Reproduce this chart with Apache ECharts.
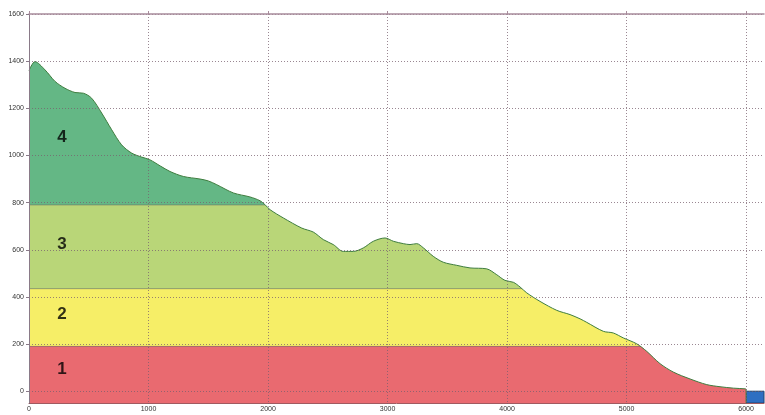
<!DOCTYPE html>
<html>
<head>
<meta charset="utf-8">
<script src="https://cdn.jsdelivr.net/npm/echarts@6/dist/echarts.min.js"></script>
<style>html,body{margin:0;padding:0;background:#fff}#c{width:765px;height:415px}</style>
</head>
<body>
<div id="c"></div>
<script>
// ---- data ----
const distance = [0,50,134,218,301,385,455,524,608,692,775,859,943,1010,1100,1180,1291,1431,1500,1571,1710,1849,1933,1975,2017,2128,2282,2379,2463,2546,2630,2714,2798,2881,2979,3049,3132,3188,3244,3300,3383,3467,3579,3690,3830,3914,3983,4053,4109,4165,4276,4416,4527,4611,4667,4806,4889,4973,5085,5169,5280,5392,5531,5671,5782,5894,5992,6000];
const elevation = [1360,1398,1363,1314,1285,1267,1264,1243,1180,1109,1045,1010,993,982,955,932,911,900,892,876,841,824,808,791,770,735,692,675,643,622,593,593,608,636,650,636,626,622,626,608,572,547,534,523,519,494,470,462,442,417,381,343,325,307,292,254,247,226,201,169,117,81,52,28,19,13,10,8];
const zoneThresholds = [190, 435, 790];
const zoneColors = ['#e96a70', '#f6ee67', '#b9d678', '#64b785'];
const zoneNames = ['1', '2', '3', '4'];
const zoneLabelX = [276, 276, 276, 276];
const zoneLabelY = [92, 325, 621, 1079];
const xTicks = [0, 1000, 2000, 3000, 4000, 5000, 6000];
const yTicks = [0, 200, 400, 600, 800, 1000, 1200, 1400, 1600];
const xRange = [0, 6150];
const yRange = [-50, 1600];
const endBlockX = [6000, 6150];
const endBlockY = [-50, 0];

// ---- build ----
const profile = distance.map((d, i) => [d, elevation[i]]);
const outline = profile.concat([[distance[distance.length - 1], yRange[0]]]);

function crossing(level) {
  for (let i = 1; i < profile.length; i++) {
    const [x0, y0] = profile[i - 1], [x1, y1] = profile[i];
    if ((y0 - level) * (y1 - level) <= 0 && y0 !== y1) {
      return x0 + (level - y0) / (y1 - y0) * (x1 - x0);
    }
  }
  return xRange[0];
}
const boundarySeries = zoneThresholds.map(t => ({
  type: 'line', data: [[xRange[0], t], [crossing(t), t]], symbol: 'none', silent: true,
  lineStyle: {color: 'rgba(110,110,100,0.55)', width: 1}, z: 3
}));

const pieces = zoneThresholds.map((t, i) => {
  const p = {lt: t, color: zoneColors[i]};
  if (i > 0) p.gte = zoneThresholds[i - 1];
  return p;
});
pieces.push({gte: zoneThresholds[zoneThresholds.length - 1], color: zoneColors[zoneColors.length - 1]});

const gridLine = {color: 'rgba(120,95,110,0.75)', type: [1, 2], width: 1};
const plain = v => String(v);
const chart = echarts.init(document.getElementById('c'));
chart.setOption({
  animation: false,
  grid: {left: 29, right: 1, top: 14, bottom: 12, containLabel: false},
  visualMap: {show: false, type: 'piecewise', dimension: 1, seriesIndex: 0, pieces: pieces},
  xAxis: [{
    type: 'value', min: xRange[0], max: xRange[1], position: 'bottom', z: 10,
    axisLine: {show: true, onZero: false, lineStyle: {color: '#a05a60', width: 1}},
    axisTick: {show: true, length: 3, customValues: xTicks, lineStyle: gridLine},
    axisLabel: {customValues: xTicks, formatter: plain, fontSize: 7, color: '#333', margin: 3, fontFamily: 'Liberation Sans'},
    splitLine: {show: true, lineStyle: gridLine}
  }, {
    type: 'value', min: xRange[0], max: xRange[1], position: 'top', z: 10,
    axisLine: {show: true, onZero: false, lineStyle: {color: '#a88c9c', width: 1.5}},
    axisTick: {show: true, length: 3, customValues: xTicks, lineStyle: {color: '#a88c9c'}},
    axisLabel: {show: false},
    splitLine: {show: false}
  }],
  yAxis: {
    type: 'value', min: yRange[0], max: yRange[1], z: 10,
    axisLine: {show: true, onZero: false, lineStyle: {color: '#8a7a88', width: 1}},
    axisTick: {show: true, length: 3, customValues: yTicks, lineStyle: {color: '#8a7a88'}},
    axisLabel: {customValues: yTicks, formatter: plain, fontSize: 7, color: '#333', margin: 5, fontFamily: 'Liberation Sans'},
    splitLine: {show: true, lineStyle: gridLine}
  },
  series: [{
    type: 'line', data: profile, symbol: 'none', smooth: 0.3,
    lineStyle: {width: 0},
    areaStyle: {opacity: 1, origin: 'start'}, z: 2,
    markArea: {
      silent: true,
      itemStyle: {color: '#2e6fc2', borderColor: '#22446e', borderWidth: 1},
      data: [[{coord: [endBlockX[0], endBlockY[0]]}, {coord: [endBlockX[1], endBlockY[1]]}]]
    }
  }].concat(boundarySeries).concat([{
    type: 'line', data: outline, symbol: 'none', smooth: 0.3, silent: true,
    lineStyle: {color: '#3f7d3f', width: 1}, z: 4
  }, {
    type: 'scatter', symbolSize: 0, silent: true, z: 5,
    data: zoneNames.map((n, i) => ({value: [zoneLabelX[i], zoneLabelY[i]], name: n})),
    label: {show: true, position: 'inside', formatter: p => p.name, fontSize: 17, fontWeight: 'bold', color: '#000', fontFamily: 'Liberation Sans'}
  }])
});
</script>
</body>
</html>
